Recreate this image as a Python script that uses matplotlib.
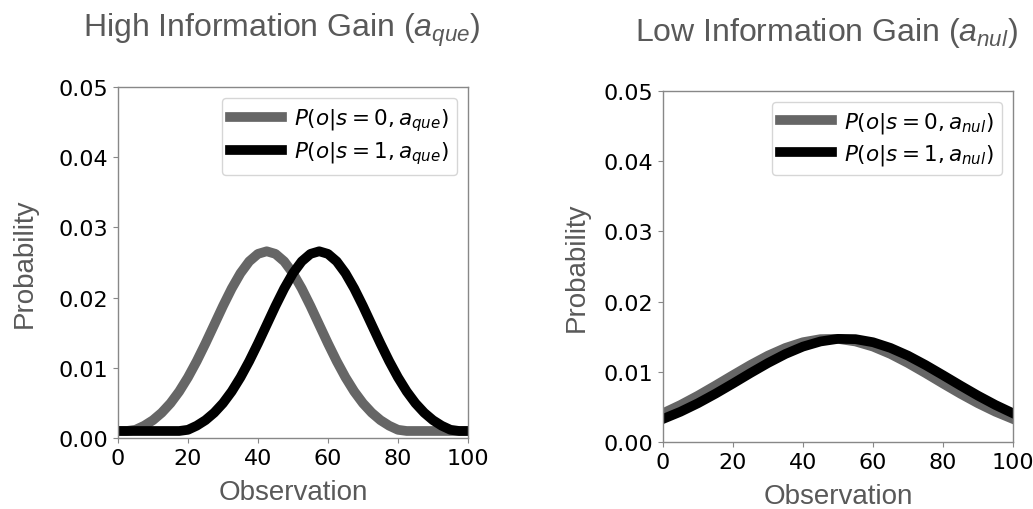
import matplotlib
matplotlib.use('Agg')
import matplotlib.pyplot as plt
import numpy as np

plt.rcParams['mathtext.fontset'] = 'dejavusans'
plt.rcParams['mathtext.rm'] = 'Liberation Sans'
plt.rcParams['mathtext.it'] = 'Liberation Sans:italic'

# observation grid, 0..100
obs_que = np.linspace(0, 100, 41)
obs_nul = np.linspace(0, 100, 21)

# high information gain (a_que)
gray_que = [0.00100, 0.00100, 0.00117, 0.00175, 0.00254, 0.00360, 0.00495, 0.00663,
            0.00864, 0.01094, 0.01347, 0.01613, 0.01880, 0.02130, 0.02347, 0.02516,
            0.02623, 0.02660, 0.02623, 0.02516, 0.02347, 0.02130, 0.01880, 0.01613,
            0.01347, 0.01094, 0.00864, 0.00663, 0.00495, 0.00360, 0.00254, 0.00175,
            0.00117, 0.00100, 0.00100, 0.00100, 0.00100, 0.00100, 0.00100, 0.00100,
            0.00100]
black_que = [0.00100, 0.00100, 0.00100, 0.00100, 0.00100, 0.00100, 0.00100, 0.00100,
             0.00117, 0.00175, 0.00254, 0.00360, 0.00495, 0.00663, 0.00864, 0.01094,
             0.01347, 0.01613, 0.01880, 0.02130, 0.02347, 0.02516, 0.02623, 0.02660,
             0.02623, 0.02516, 0.02347, 0.02130, 0.01880, 0.01613, 0.01347, 0.01094,
             0.00864, 0.00663, 0.00495, 0.00360, 0.00254, 0.00175, 0.00117, 0.00100,
             0.00100]

# low information gain (a_nul)
gray_nul = [0.00409, 0.00527, 0.00660, 0.00804, 0.00952, 0.01097, 0.01230, 0.01340,
            0.01421, 0.01465, 0.01469, 0.01432, 0.01359, 0.01254, 0.01125, 0.00982,
            0.00833, 0.00688, 0.00552, 0.00431, 0.00328]
black_nul = [0.00328, 0.00431, 0.00552, 0.00688, 0.00833, 0.00982, 0.01125, 0.01254,
             0.01359, 0.01432, 0.01469, 0.01465, 0.01421, 0.01340, 0.01230, 0.01097,
             0.00952, 0.00804, 0.00660, 0.00527, 0.00409]

yticks = [0.00, 0.01, 0.02, 0.03, 0.04, 0.05]
xticks = [0, 20, 40, 60, 80, 100]

label_color = '#595959'
gray = '#666666'

fig = plt.figure(figsize=(10.33, 5.10), dpi=100)
ax1 = fig.add_axes([0.1142, 0.1392, 0.3388, 0.6882])
ax2 = fig.add_axes([0.6418, 0.1314, 0.3388, 0.6882])


def style_axes(ax, x, g, b, act, title, ypad, tx):
    ax.plot(x, g, color=gray, lw=7, label=r'$P(o|s=0,a_{%s})$' % act)
    ax.plot(x, b, color='black', lw=7, label=r'$P(o|s=1,a_{%s})$' % act)
    ax.set_xlim(0, 100)
    ax.set_ylim(0, 0.05)
    ax.set_xticks(xticks)
    ax.set_yticks(yticks)
    ax.set_yticklabels(['%.2f' % t for t in yticks])
    ax.tick_params(labelsize=16, color='#888888', length=3.5)
    for sp in ax.spines.values():
        sp.set_color('#888888')
        sp.set_linewidth(1.0)
    ax.set_xlabel('Observation', fontsize=20, color=label_color,
                  family='Liberation Sans', labelpad=8)
    ax.set_ylabel('Probability', fontsize=20, color=label_color,
                  family='Liberation Sans', labelpad=ypad)
    ax.set_title(title, fontsize=23, color=label_color, family='Liberation Sans',
                 math_fontfamily='custom', pad=37, x=tx)
    ax.legend(loc='upper right', fontsize=15.5, handlelength=2.4,
              handletextpad=0.55, labelspacing=0.3)


style_axes(ax1, obs_que, gray_que, black_que, 'que',
           r'High Information Gain ($a_{que}$)', 15, 0.469)
style_axes(ax2, obs_nul, gray_nul, black_nul, 'nul',
           r'Low Information Gain ($a_{nul}$)', 10, 0.466)

fig.savefig('out.png', dpi=100)
